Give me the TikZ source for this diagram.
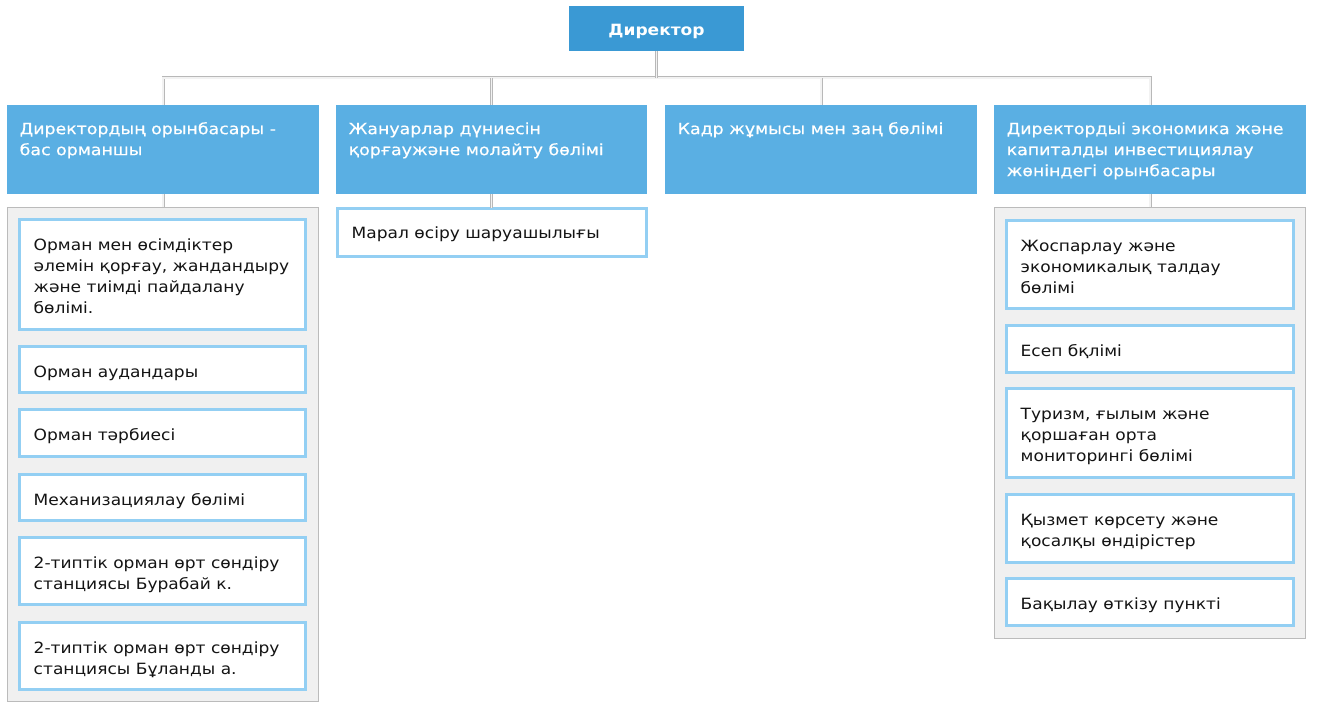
\documentclass[tikz,border=0pt]{standalone}
\usepackage{fontspec}
\setmainfont{DejaVu Sans}[FakeStretch=1.1]
\newfontfamily\headfam{DejaVu Sans}[FakeStretch=1.12, FakeBold=0.5]
\newcommand\orgfont{\fontsize{15.5}{21}\selectfont}
\newcommand\orgheadfont{\headfam\fontsize{15.5}{21}\selectfont}
\definecolor{dirblue}{HTML}{3A99D4}
\definecolor{headblue}{HTML}{5AAFE3}
\definecolor{itemblue}{HTML}{93CFF3}
\definecolor{contgray}{HTML}{F0F0F0}
\definecolor{contline}{HTML}{BBBBBB}
\definecolor{connline}{HTML}{B8B8B8}
\definecolor{conninner}{HTML}{F2F2F2}
\definecolor{textblack}{HTML}{141414}
\begin{document}
\begin{tikzpicture}[x=1pt,y=-1pt,
  dirbox/.style={fill=dirblue, draw=none, outer sep=0pt, inner sep=0pt, text=white, font=\orgfont\bfseries},
  headbox/.style={fill=headblue, draw=none, outer sep=0pt, inner sep=0pt},
  contbox/.style={fill=contgray, draw=contline, line width=1pt, outer sep=0pt, inner sep=0pt},
  itembox/.style={fill=white, draw=itemblue, line width=3pt, outer sep=0pt, inner sep=0pt},
  headtext/.style={anchor=north west, inner sep=0pt, align=left, text=white, font=\orgheadfont},
  itemtext/.style={anchor=north west, inner sep=0pt, align=left, text=textblack, font=\orgfont},
  conn/.style={draw=connline, double=conninner, double distance=1.2pt, line width=0.9pt}
]
\fill[white] (0,0) rectangle (1318,708);
\useasboundingbox (0,0) rectangle (1318,708);

% director
\node[dirbox, minimum width=175, minimum height=45] (dir) at (656.5,28.5) {};
\node[text=white, font=\orgfont\bfseries, inner sep=0pt, anchor=base] (dirt) at ([yshift=-7pt]dir.center) {Директор};

% headers
\node[headbox, minimum width=312, minimum height=89] (h1) at (163,149.5) {};
\node[headbox, minimum width=311, minimum height=89] (h2) at (491.5,149.5) {};
\node[headbox, minimum width=312, minimum height=89] (h3) at (821,149.5) {};
\node[headbox, minimum width=312, minimum height=89] (h4) at (1150,149.5) {};
\node[headtext] (ht1) at ([xshift=12.5pt,yshift=-14.3pt]h1.north west) {\strut Директордың орынбасары -\\бас орманшы};
\node[headtext] (ht2) at ([xshift=12.5pt,yshift=-14.3pt]h2.north west) {\strut Жануарлар дүниесін\\қорғаужәне молайту бөлімі};
\node[headtext] (ht3) at ([xshift=12.5pt,yshift=-14.3pt]h3.north west) {\strut Кадр жұмысы мен заң бөлімі};
\node[headtext] (ht4) at ([xshift=12.5pt,yshift=-14.3pt]h4.north west) {\strut Директордыі экономика және\\капиталды инвестициялау\\жөніндегі орынбасары};

% containers
\node[contbox, minimum width=311, minimum height=494] (c1) at (163,454.5) {};
\node[contbox, minimum width=311, minimum height=431] (c4) at (1150,423) {};

% column 1 items
\node[itembox, minimum width=286, minimum height=110] (b11) at (162.5,274.5) {};
\node[itembox, minimum width=286, minimum height=46] (b12) at (162.5,369.5) {};
\node[itembox, minimum width=286, minimum height=47] (b13) at (162.5,433) {};
\node[itembox, minimum width=286, minimum height=46] (b14) at (162.5,497.5) {};
\node[itembox, minimum width=286, minimum height=67] (b15) at (162.5,571) {};
\node[itembox, minimum width=286, minimum height=67] (b16) at (162.5,656) {};
\node[itemtext] (t11) at ([xshift=14pt,yshift=-15.8pt]b11.north west) {\strut Орман мен өсімдіктер\\әлемін қорғау, жандандыру\\және тиімді пайдалану\\бөлімі.};
\node[itemtext] (t12) at ([xshift=14pt,yshift=-15.8pt]b12.north west) {\strut Орман аудандары};
\node[itemtext] (t13) at ([xshift=14pt,yshift=-15.8pt]b13.north west) {\strut Орман тәрбиесі};
\node[itemtext] (t14) at ([xshift=14pt,yshift=-15.8pt]b14.north west) {\strut Механизациялау бөлімі};
\node[itemtext] (t15) at ([xshift=14pt,yshift=-15.8pt]b15.north west) {\strut 2-типтік орман өрт сөндіру\\станциясы Бурабай к.};
\node[itemtext] (t16) at ([xshift=14pt,yshift=-15.8pt]b16.north west) {\strut 2-типтік орман өрт сөндіру\\станциясы Бұланды а.};

% column 2 item
\node[itembox, minimum width=309, minimum height=48] (b21) at (492,232.5) {};
\node[itemtext] (t21) at ([xshift=14pt,yshift=-15.3pt]b21.north west) {\strut Марал өсіру шаруашылығы};

% column 4 items
\node[itembox, minimum width=287, minimum height=88] (b41) at (1150,264.5) {};
\node[itembox, minimum width=287, minimum height=47] (b42) at (1150,349) {};
\node[itembox, minimum width=287, minimum height=89] (b43) at (1150,433) {};
\node[itembox, minimum width=287, minimum height=68] (b44) at (1150,528.5) {};
\node[itembox, minimum width=287, minimum height=47] (b45) at (1150,602) {};
\node[itemtext] (t41) at ([xshift=14pt,yshift=-15.8pt]b41.north west) {\strut Жоспарлау және\\экономикалық талдау\\бөлімі};
\node[itemtext] (t42) at ([xshift=14pt,yshift=-15.8pt]b42.north west) {\strut Есеп бқлімі};
\node[itemtext] (t43) at ([xshift=14pt,yshift=-15.8pt]b43.north west) {\strut Туризм, ғылым және\\қоршаған орта\\мониторингі бөлімі};
\node[itemtext] (t44) at ([xshift=14pt,yshift=-15.8pt]b44.north west) {\strut Қызмет көрсету және\\қосалқы өндірістер};
\node[itemtext] (t45) at ([xshift=14pt,yshift=-15.8pt]b45.north west) {\strut Бақылау өткізу пункті};

% connectors
\coordinate (bus) at (656.5,78);
\draw[conn] (h1.north) |- (h4.north |- bus) -- (h4.north);
\draw[conn] (dir.south) -- (bus);
\draw[conn] (h2.north |- bus) -- (h2.north);
\draw[conn] (h3.north |- bus) -- (h3.north);
\draw[conn] (h1.south) -- (c1.north);
\draw[conn] (h2.south) -- (h2.south |- b21.north);
\draw[conn] (h4.south) -- (c4.north);
\end{tikzpicture}
\end{document}
